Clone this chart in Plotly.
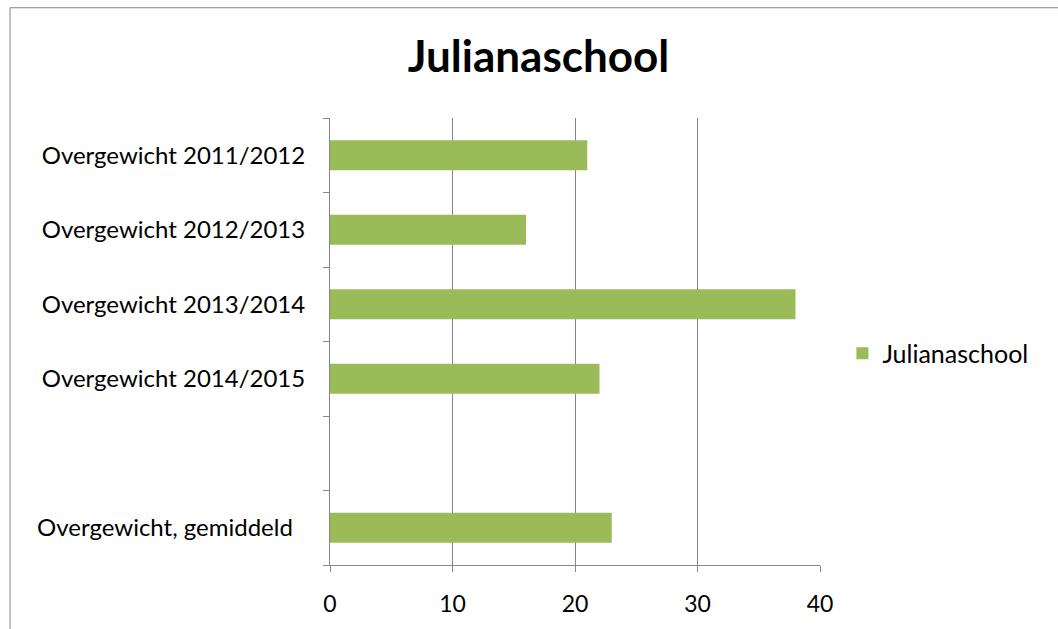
import plotly.graph_objects as go

categories = ["Overgewicht 2011/2012", "Overgewicht 2012/2013", "Overgewicht 2013/2014",
              "Overgewicht 2014/2015", "", "Overgewicht, gemiddeld\u00a0\u00a0"]
values = [21, 16, 38, 22, None, 23]
series_name = "Julianaschool"
x_ticks = [0, 10, 20, 30, 40]

positions = list(range(len(categories)))

fig = go.Figure()
fig.add_trace(go.Bar(
    y=positions, x=values, orientation="h", name=series_name,
    marker=dict(color="#9BBB59", line=dict(width=0)),
    showlegend=True,
))

font_family = "Lato, 'Open Sans', sans-serif"

fig.update_layout(
    width=1058, height=629,
    margin=dict(l=330, r=238, t=118, b=61),
    paper_bgcolor="white", plot_bgcolor="white",
    bargap=0.6,
    font=dict(family=font_family, size=24, color="black"),
    title=dict(text="<b>Julianaschool</b>", x=538.5 / 1058, xanchor="center", xref="container",
               y=1 - 57 / 629, yanchor="middle", yref="container",
               font=dict(family=font_family, size=44, color="black")),
    legend=dict(x=1.0457, xanchor="left", y=(568 - 355) / 450, yanchor="middle",
                font=dict(size=25), itemwidth=30, bgcolor="rgba(0,0,0,0)"),
    xaxis=dict(range=[0, 40], tickvals=x_ticks, showgrid=True, gridcolor="#868686",
               gridwidth=1, zeroline=False, showline=True, linecolor="#868686",
               ticks="outside", ticklen=6, tickcolor="#868686", mirror=False,
               ticklabelstandoff=12, tickfont=dict(size=23)),
    yaxis=dict(range=[5.5, -0.5], tickvals=positions, ticktext=categories,
               ticks="", showgrid=False, zeroline=False, showline=True,
               linecolor="#868686", ticklabelstandoff=19,
               minor=dict(tickvals=[p - 0.5 for p in positions] + [positions[-1] + 0.5],
                          ticks="outside", ticklen=6, tickcolor="#868686", showgrid=False),
               tickfont=dict(size=24)),
    shapes=[dict(type="rect", xref="paper", yref="paper",
                 x0=(10 - 330) / 490, x1=(1070 - 330) / 490,
                 y0=-(640 - 568) / 450, y1=(568 - 7) / 450,
                 line=dict(color="#868686", width=1), fillcolor="rgba(0,0,0,0)", layer="below")],
)

fig.write_html("out.html", config={"displayModeBar": False},
               post_script="document.body.style.margin='0px';")
